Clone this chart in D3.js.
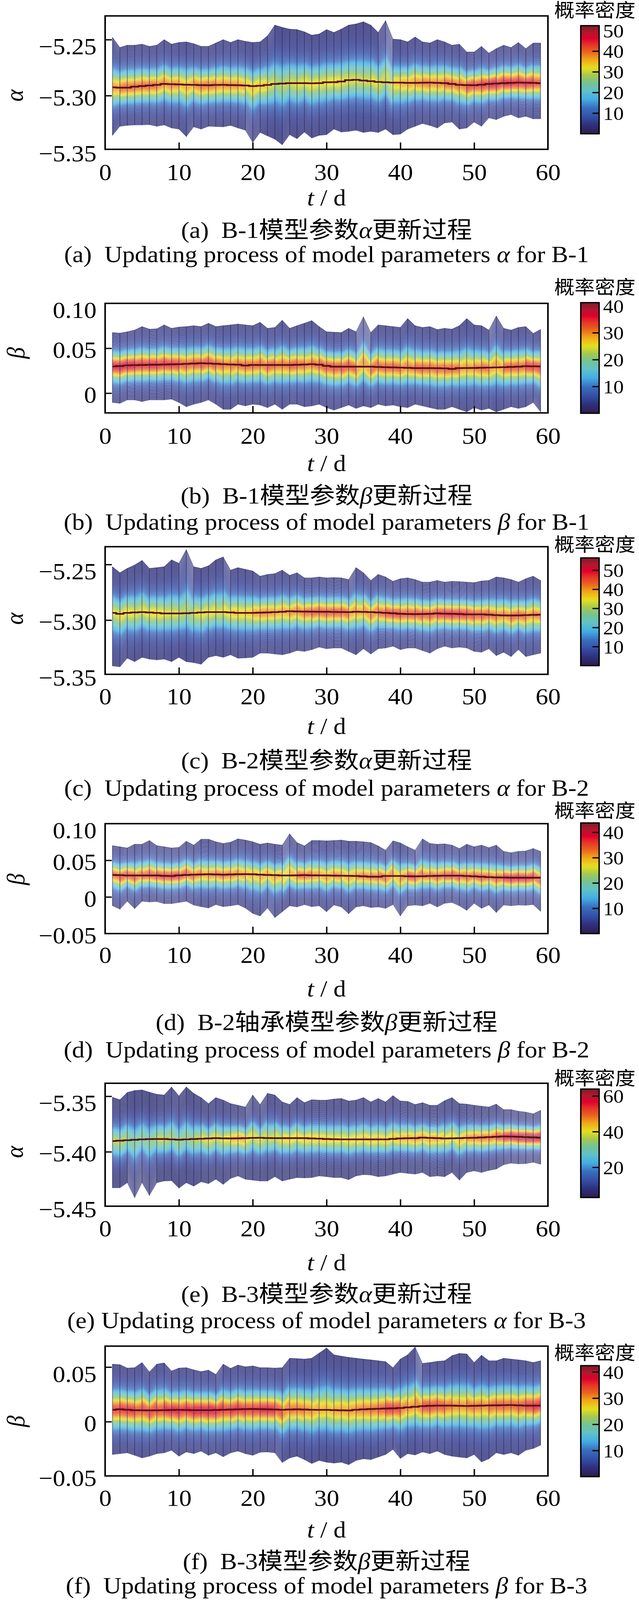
<!DOCTYPE html>
<html><head><meta charset="utf-8">
<script src="https://cdn.jsdelivr.net/npm/d3@7"></script>
<style>
html,body{margin:0;padding:0;background:#fff;overflow:hidden;}
svg{display:block;}
text{font-family:"Liberation Serif","Times New Roman","Noto Sans CJK SC",serif;fill:#000;}
</style></head><body>
<svg id="chart" width="1635" height="4094" viewBox="0 0 1635 4423" preserveAspectRatio="none"></svg>
<script>
// ---------------- data ----------------
const days = d3.range(1, 60);
const xTickValues = [0, 10, 20, 30, 40, 50, 60];

const aUpper = [-5.248,-5.257,-5.255,-5.255,-5.254,-5.256,-5.255,-5.250,-5.254,-5.2525,-5.252,-5.2536,-5.256,-5.256,-5.253,-5.250,-5.2525,-5.250,-5.2515,-5.2525,-5.252,-5.2466,-5.237,-5.239,-5.2406,-5.241,-5.243,-5.246,-5.245,-5.241,-5.2436,-5.2406,-5.237,-5.236,-5.234,-5.237,-5.2436,-5.233,-5.2495,-5.250,-5.252,-5.2476,-5.252,-5.253,-5.250,-5.252,-5.255,-5.254,-5.261,-5.261,-5.256,-5.262,-5.258,-5.255,-5.257,-5.2525,-5.258,-5.253,-5.253];
const aLower = [-5.3356,-5.3275,-5.3267,-5.3263,-5.3263,-5.326,-5.3275,-5.3263,-5.329,-5.330,-5.3367,-5.328,-5.330,-5.3275,-5.3277,-5.328,-5.3267,-5.329,-5.331,-5.342,-5.333,-5.336,-5.339,-5.344,-5.335,-5.3386,-5.3326,-5.338,-5.3356,-5.335,-5.330,-5.3326,-5.332,-5.331,-5.333,-5.332,-5.333,-5.330,-5.335,-5.3345,-5.330,-5.3275,-5.325,-5.3267,-5.329,-5.3245,-5.3237,-5.330,-5.329,-5.3237,-5.3275,-5.320,-5.3215,-5.3186,-5.317,-5.320,-5.3186,-5.3208,-5.3208];
const aMean = [-5.2926,-5.2929,-5.2929,-5.292,-5.2915,-5.291,-5.2904,-5.2896,-5.2898,-5.290,-5.2903,-5.2904,-5.2906,-5.2907,-5.2905,-5.2904,-5.2906,-5.2907,-5.291,-5.2915,-5.2912,-5.2905,-5.2896,-5.2892,-5.2889,-5.2889,-5.2889,-5.289,-5.2889,-5.2881,-5.288,-5.2874,-5.2862,-5.2859,-5.2865,-5.2871,-5.2878,-5.2881,-5.2884,-5.2884,-5.2886,-5.2886,-5.2885,-5.2884,-5.2886,-5.2889,-5.2896,-5.2904,-5.2906,-5.2907,-5.2903,-5.2896,-5.2892,-5.2889,-5.2886,-5.2884,-5.2885,-5.2886,-5.2889];

const bUpper = [0.0675,0.0669,0.0684,0.0703,0.0741,0.0713,0.0717,0.0760,0.0722,0.0736,0.0741,0.0751,0.0741,0.0779,0.0741,0.0751,0.0760,0.0770,0.0760,0.0751,0.0789,0.0722,0.0732,0.0812,0.0722,0.0751,0.0779,0.0808,0.0741,0.0684,0.0679,0.0675,0.0722,0.0684,0.0850,0.0675,0.0760,0.0751,0.0741,0.0732,0.0831,0.0751,0.0732,0.0741,0.0709,0.0722,0.0713,0.0751,0.0831,0.0760,0.0751,0.0703,0.0859,0.0722,0.0703,0.0732,0.0741,0.0665,0.0709];
const bLower = [-0.0105,-0.0114,-0.0076,-0.0076,-0.0095,-0.0076,-0.0076,-0.0076,-0.0067,-0.0105,-0.0152,-0.0124,-0.0105,-0.0076,-0.0124,-0.0181,-0.0181,-0.0124,-0.0143,-0.0124,-0.0133,-0.0162,-0.0124,-0.0181,-0.0124,-0.0124,-0.0152,-0.0143,-0.0124,-0.0162,-0.0190,-0.0162,-0.0133,-0.0171,-0.0143,-0.0162,-0.0124,-0.0143,-0.0133,-0.0152,-0.0162,-0.0124,-0.0143,-0.0162,-0.0181,-0.0181,-0.0152,-0.0181,-0.0209,-0.0162,-0.0190,-0.0171,-0.0209,-0.0181,-0.0152,-0.0171,-0.0152,-0.0105,-0.0209];
const bMean = [0.0298,0.0302,0.0310,0.0312,0.0314,0.0316,0.0317,0.0319,0.0321,0.0323,0.0326,0.0330,0.0333,0.0331,0.0327,0.0323,0.0319,0.0317,0.0308,0.0314,0.0314,0.0314,0.0314,0.0314,0.0314,0.0316,0.0319,0.0323,0.0317,0.0304,0.0295,0.0295,0.0295,0.0295,0.0295,0.0295,0.0292,0.0289,0.0287,0.0285,0.0282,0.0279,0.0279,0.0279,0.0278,0.0276,0.0270,0.0279,0.0280,0.0281,0.0283,0.0285,0.0287,0.0289,0.0292,0.0295,0.0300,0.0299,0.0298];

const cUpper = [-5.2520,-5.2574,-5.2535,-5.2505,-5.2463,-5.2535,-5.2528,-5.2520,-5.2458,-5.2489,-5.2366,-5.2520,-5.2535,-5.2512,-5.2458,-5.2432,-5.2551,-5.2528,-5.2543,-5.2558,-5.2605,-5.2589,-5.2582,-5.2551,-5.2597,-5.2574,-5.2620,-5.2620,-5.2612,-5.2620,-5.2617,-5.2620,-5.2635,-5.2528,-5.2574,-5.2643,-5.2589,-5.2612,-5.2651,-5.2628,-5.2620,-5.2635,-5.2658,-5.2658,-5.2643,-5.2658,-5.2651,-5.2654,-5.2658,-5.2663,-5.2648,-5.2643,-5.2612,-5.2620,-5.2635,-5.2658,-5.2628,-5.2605,-5.2643];
const cLower = [-5.3412,-5.3420,-5.3343,-5.3374,-5.3335,-5.3351,-5.3358,-5.3351,-5.3374,-5.3335,-5.3374,-5.3382,-5.3397,-5.3335,-5.3320,-5.3335,-5.3312,-5.3343,-5.3340,-5.3335,-5.3297,-5.3297,-5.3305,-5.3312,-5.3297,-5.3274,-5.3282,-5.3266,-5.3243,-5.3258,-5.3251,-5.3251,-5.3282,-5.3312,-5.3258,-5.3305,-5.3258,-5.3251,-5.3235,-5.3266,-5.3251,-5.3251,-5.3274,-5.3297,-5.3258,-5.3235,-5.3251,-5.3243,-5.3251,-5.3282,-5.3289,-5.3258,-5.3320,-5.3289,-5.3328,-5.3266,-5.3328,-5.3312,-5.3297];
const cMean = [-5.2935,-5.2943,-5.2935,-5.2931,-5.2928,-5.2931,-5.2935,-5.2940,-5.2940,-5.2940,-5.2938,-5.2935,-5.2931,-5.2928,-5.2928,-5.2928,-5.2931,-5.2935,-5.2935,-5.2935,-5.2933,-5.2931,-5.2928,-5.2925,-5.2920,-5.2922,-5.2923,-5.2924,-5.2925,-5.2925,-5.2926,-5.2927,-5.2928,-5.2925,-5.2926,-5.2928,-5.2931,-5.2935,-5.2938,-5.2943,-5.2945,-5.2946,-5.2945,-5.2943,-5.2940,-5.2942,-5.2943,-5.2945,-5.2948,-5.2948,-5.2948,-5.2951,-5.2955,-5.2957,-5.2958,-5.2957,-5.2955,-5.2953,-5.2951];

const dUpper = [0.0700,0.0684,0.0668,0.0719,0.0719,0.0770,0.0700,0.0684,0.0668,0.0677,0.0760,0.0707,0.0788,0.0788,0.0753,0.0730,0.0747,0.0793,0.0776,0.0753,0.0719,0.0737,0.0719,0.0707,0.0862,0.0742,0.0696,0.0770,0.0770,0.0765,0.0770,0.0776,0.0760,0.0760,0.0753,0.0742,0.0696,0.0638,0.0765,0.0737,0.0684,0.0638,0.0793,0.0730,0.0719,0.0724,0.0707,0.0661,0.0719,0.0684,0.0707,0.0673,0.0707,0.0622,0.0604,0.0622,0.0627,0.0661,0.0622];
const dLower = [-0.0122,-0.0168,-0.0060,-0.0161,-0.0060,-0.0069,-0.0065,-0.0092,-0.0092,-0.0076,-0.0060,-0.0111,-0.0134,-0.0152,-0.0106,-0.0134,-0.0122,-0.0106,-0.0152,-0.0226,-0.0260,-0.0152,-0.0283,-0.0203,-0.0122,-0.0138,-0.0106,-0.0134,-0.0122,-0.0203,-0.0111,-0.0138,-0.0230,-0.0138,-0.0122,-0.0145,-0.0138,-0.0157,-0.0106,-0.0260,-0.0122,-0.0111,-0.0122,-0.0088,-0.0138,-0.0088,-0.0076,-0.0122,-0.0184,-0.0088,-0.0157,-0.0111,-0.0214,-0.0111,-0.0122,-0.0111,-0.0115,-0.0106,-0.0198];
const dMean = [0.0300,0.0297,0.0293,0.0293,0.0293,0.0293,0.0293,0.0288,0.0286,0.0295,0.0300,0.0304,0.0307,0.0309,0.0307,0.0304,0.0307,0.0309,0.0311,0.0309,0.0304,0.0300,0.0297,0.0293,0.0293,0.0295,0.0297,0.0295,0.0294,0.0293,0.0291,0.0290,0.0288,0.0286,0.0281,0.0276,0.0276,0.0286,0.0286,0.0286,0.0283,0.0281,0.0283,0.0286,0.0288,0.0290,0.0290,0.0290,0.0286,0.0281,0.0276,0.0270,0.0267,0.0265,0.0263,0.0263,0.0263,0.0263,0.0263];

const eUpper = [-5.3509,-5.3531,-5.3466,-5.3448,-5.3443,-5.3463,-5.3482,-5.3489,-5.3417,-5.3497,-5.3416,-5.3474,-5.3512,-5.3566,-5.3512,-5.3535,-5.3566,-5.3581,-5.3597,-5.3489,-5.3574,-5.3474,-5.3489,-5.3551,-5.3574,-5.3512,-5.3558,-5.3531,-5.3535,-5.3535,-5.3525,-5.3520,-5.3543,-5.3535,-5.3512,-5.3551,-5.3520,-5.3551,-5.3494,-5.3543,-5.3546,-5.3574,-5.3558,-5.3581,-5.3581,-5.3540,-5.3512,-5.3566,-5.3571,-5.3581,-5.3589,-5.3597,-5.3571,-5.3620,-5.3620,-5.3635,-5.3643,-5.3658,-5.3627];
const eLower = [-5.4325,-5.4325,-5.4279,-5.4414,-5.4279,-5.4394,-5.4279,-5.4264,-5.4261,-5.4328,-5.4279,-5.4310,-5.4271,-5.4287,-5.4248,-5.4294,-5.4241,-5.4218,-5.4248,-5.4256,-5.4264,-5.4264,-5.4225,-5.4264,-5.4248,-5.4233,-5.4236,-5.4233,-5.4218,-5.4225,-5.4233,-5.4233,-5.4252,-5.4218,-5.4206,-5.4210,-5.4225,-5.4218,-5.4202,-5.4187,-5.4195,-5.4202,-5.4187,-5.4225,-5.4218,-5.4225,-5.4187,-5.4256,-5.4187,-5.4172,-5.4187,-5.4169,-5.4156,-5.4118,-5.4103,-5.4110,-5.4107,-5.4095,-5.4113];
const eMean = [-5.3903,-5.3900,-5.3896,-5.3892,-5.3888,-5.3886,-5.3885,-5.3885,-5.3888,-5.3891,-5.3888,-5.3885,-5.3883,-5.3880,-5.3877,-5.3879,-5.3880,-5.3879,-5.3877,-5.3875,-5.3874,-5.3876,-5.3877,-5.3877,-5.3877,-5.3877,-5.3877,-5.3880,-5.3882,-5.3885,-5.3887,-5.3888,-5.3888,-5.3888,-5.3888,-5.3888,-5.3888,-5.3888,-5.3884,-5.3880,-5.3878,-5.3877,-5.3873,-5.3875,-5.3877,-5.3880,-5.3879,-5.3877,-5.3875,-5.3874,-5.3871,-5.3868,-5.3865,-5.3862,-5.3863,-5.3865,-5.3868,-5.3870,-5.3873];

const fUpper = [0.0527,0.0522,0.0491,0.0495,0.0542,0.0456,0.0527,0.0538,0.0464,0.0491,0.0495,0.0475,0.0459,0.0472,0.0433,0.0527,0.0488,0.0519,0.0503,0.0511,0.0495,0.0495,0.0491,0.0495,0.0581,0.0578,0.0573,0.0581,0.0628,0.0675,0.0613,0.0600,0.0589,0.0581,0.0573,0.0566,0.0558,0.0550,0.0495,0.0573,0.0613,0.0683,0.0534,0.0542,0.0553,0.0558,0.0605,0.0625,0.0620,0.0542,0.0609,0.0558,0.0558,0.0581,0.0573,0.0566,0.0558,0.0542,0.0558];
const fLower = [-0.0302,-0.0294,-0.0286,-0.0309,-0.0333,-0.0317,-0.0294,-0.0286,-0.0263,-0.0317,-0.0278,-0.0294,-0.0270,-0.0309,-0.0286,-0.0322,-0.0286,-0.0270,-0.0294,-0.0309,-0.0281,-0.0278,-0.0286,-0.0375,-0.0333,-0.0317,-0.0348,-0.0384,-0.0356,-0.0372,-0.0380,-0.0372,-0.0395,-0.0356,-0.0341,-0.0348,-0.0325,-0.0302,-0.0255,-0.0338,-0.0294,-0.0306,-0.0278,-0.0294,-0.0270,-0.0302,-0.0317,-0.0325,-0.0333,-0.0302,-0.0369,-0.0341,-0.0286,-0.0302,-0.0286,-0.0309,-0.0263,-0.0247,-0.0216];
const fMean = [0.0109,0.0113,0.0109,0.0105,0.0104,0.0103,0.0104,0.0105,0.0107,0.0108,0.0107,0.0105,0.0105,0.0105,0.0107,0.0109,0.0111,0.0113,0.0115,0.0116,0.0115,0.0113,0.0111,0.0109,0.0111,0.0113,0.0111,0.0109,0.0108,0.0108,0.0106,0.0104,0.0103,0.0109,0.0113,0.0116,0.0118,0.0120,0.0122,0.0125,0.0131,0.0136,0.0142,0.0145,0.0147,0.0147,0.0147,0.0145,0.0144,0.0145,0.0147,0.0149,0.0150,0.0151,0.0152,0.0150,0.0147,0.0147,0.0147];

const alphaTicks = [-5.35, -5.30, -5.25];
const bTicks = [0, 0.05, 0.10];
const dTicks = [-0.05, 0, 0.05, 0.10];
const eTicks = [-5.45, -5.40, -5.35];
const fTicks = [-0.05, 0, 0.05];

const captionsCn = [
  ["(a)  B-1模型参数", "α", "更新过程"],
  ["(b)  B-1模型参数", "β", "更新过程"],
  ["(c)  B-2模型参数", "α", "更新过程"],
  ["(d)  B-2轴承模型参数", "β", "更新过程"],
  ["(e)  B-3模型参数", "α", "更新过程"],
  ["(f)  B-3模型参数", "β", "更新过程"]
];
const captionsEn = [
  ["(a)  Updating process of model parameters ", "α", " for B-1"],
  ["(b)  Updating process of model parameters ", "β", " for B-1"],
  ["(c)  Updating process of model parameters ", "α", " for B-2"],
  ["(d)  Updating process of model parameters ", "β", " for B-2"],
  ["(e) Updating process of model parameters ", "α", " for B-3"],
  ["(f)  Updating process of model parameters ", "β", " for B-3"]
];
const colorbarTitle = "概率密度";

// ---------------- layout (positions only, in 1635x4423 figure units) ----------------
const panels = [
  {upper:aUpper, lower:aLower, mean:aMean, ticks:alphaTicks, ylab:"α", yDomain:[-5.348,-5.2288], top:44, bottom:413, xLab:476, td:546, cn:636, en:703, cbTop:71, cbBot:370, cbDomain:[0,52.3], cbTicks:[10,20,30,40,50], titleY:28, ylabX:58, ylabY:264},
  {upper:bUpper, lower:bLower, mean:bMean, ticks:bTicks, ylab:"β", yDomain:[-0.022,0.10], top:839, bottom:1142, xLab:1205, td:1280, cn:1370, en:1443, cbTop:837, cbBot:1143, cbDomain:[0,41.2], cbTicks:[10,20,30,40], titleY:794, ylabX:62, ylabY:976},
  {upper:cUpper, lower:cLower, mean:cMean, ticks:alphaTicks, ylab:"α", yDomain:[-5.3487,-5.234], top:1512, bottom:1865, xLab:1926, td:2008, cn:2103, en:2178, cbTop:1543, cbBot:1841, cbDomain:[0,56.4], cbTicks:[10,20,30,40,50], titleY:1506, ylabX:58, ylabY:1711},
  {upper:dUpper, lower:dLower, mean:dMean, ticks:dTicks, ylab:"β", yDomain:[-0.05,0.10], top:2278, bottom:2582, xLab:2641, td:2734, cn:2826, en:2902, cbTop:2276, cbBot:2582, cbDomain:[0,43.7], cbTicks:[10,20,30,40], titleY:2241, ylabX:62, ylabY:2432},
  {upper:eUpper, lower:eLower, mean:eMean, ticks:eTicks, ylab:"α", yDomain:[-5.449,-5.3383], top:2996, bottom:3336, xLab:3397, td:3491, cn:3578, en:3651, cbTop:3012, cbBot:3312, cbDomain:[3,63.9], cbTicks:[20,40,60], titleY:2981, ylabX:58, ylabY:3186},
  {upper:fUpper, lower:fLower, mean:fMean, ticks:fTicks, ylab:"β", yDomain:[-0.0497,0.0692], top:3723, bottom:4082, xLab:4142, td:4230, cn:4317, en:4384, cbTop:3777, cbBot:4084, cbDomain:[0,42.4], cbTicks:[10,20,30,40], titleY:3741, ylabX:62, ylabY:3931}
];

const PLOT_L = 269, PLOT_R = 1402, CB_L = 1486, CB_R = 1533, CENTER_X = 835.5;
const TICK_FS = 64, CB_FS = 53, CAP_FS = 64;

// colour map (style)
const cmapPos = [0,0.08,0.16,0.24,0.32,0.40,0.47,0.54,0.61,0.69,0.76,0.83,0.88,0.94,1];
const cmapCol = ["#2c1e4a","#2f2f7e","#3450a6","#3a6fc0","#44aee4","#62c2c6","#74c394","#a5c84f","#e6e01d","#f2a31c","#e9611f","#e6302a","#e0002c","#b0182e","#7c1c28"];
const cmap = d3.scaleLinear().domain(cmapPos).range(cmapCol).interpolate(d3.interpolateRgb).clamp(true);
const surfPos = [0,0.06,0.16,0.24,0.32,0.40,0.47,0.54,0.61,0.69,0.76,0.83,0.88,0.94,1];
const surfCol = ["#2e2f74","#30368a","#3450a6","#3a6fc0","#44aee4","#62c2c6","#74c394","#a5c84f","#e6e01d","#f2a31c","#e9611f","#e6302a","#e0002c","#b0182e","#7c1c28"];
const surfColor = d3.scaleLinear().domain(surfPos).range(surfCol).interpolate(d3.interpolateRgb).clamp(true);

const svg = d3.select("#chart");
svg.append("rect").attr("width",1635).attr("height",4423).attr("fill","#fff");
const defs = svg.append("defs");
const tickFmt = d => Math.abs(d) < 1e-12 ? "0" : d3.format(".2f")(d);

const K = 3.7, SHAPE_P = 1.6, N = 80;

panels.forEach((p, pi) => {
  const g = svg.append("g");
  const x = d3.scaleLinear().domain([0, 60]).range([PLOT_L, PLOT_R]);
  const y = d3.scaleLinear().domain(p.yDomain).range([p.bottom, p.top]);
  const cnorm = d3.scaleLinear().domain(p.cbDomain).range([0, 1]).clamp(true);

  // density columns: profile built from each day's mean and extent
  const cols = days.map((d, i) => {
    const lo = p.lower[i], up = p.upper[i], mu = p.mean[i];
    const sU = (up - mu) / K, sL = (mu - lo) / K;
    const peak = 1 / (((sU + sL) / 2) * Math.sqrt(2 * Math.PI));
    return d3.range(N + 1).map(k => {
      const v = lo + (up - lo) * k / N;
      const s = v >= mu ? sU : sL;
      const z = Math.abs(v - mu) / s;
      return {x: x(d), y: y(v), dens: peak * Math.exp(-0.5 * Math.pow(z, SHAPE_P))};
    });
  });
  const quads = [];
  for (let i = 0; i < cols.length - 1; i++) {
    for (let k = 0; k < N; k++) {
      const a = cols[i][k], b = cols[i + 1][k], c = cols[i + 1][k + 1], e = cols[i][k + 1];
      quads.push({pts: [a, b, c, e], dens: (a.dens + b.dens + c.dens + e.dens) / 4});
    }
  }
  const surf = g.append("g");
  surf.selectAll("path.q").data(quads).join("path").attr("class","q")
    .attr("d", q => "M" + q.pts.map(pt => pt.x.toFixed(1) + "," + pt.y.toFixed(1)).join("L") + "Z")
    .attr("fill", q => surfColor(cnorm(q.dens)))
    .attr("stroke", q => surfColor(cnorm(q.dens)))
    .attr("stroke-width", 0.7);

  // mesh lines (at the grid rows and half-way between them)
  const strips = d3.range(cols.length - 1);
  const meshPath = i => {
    let s = "";
    for (let k = 0; k < N; k++) {
      for (const f of [0, 0.5]) {
        const ya = cols[i][k].y + (cols[i][k + 1].y - cols[i][k].y) * f;
        const yb = cols[i + 1][k].y + (cols[i + 1][k + 1].y - cols[i + 1][k].y) * f;
        s += "M" + cols[i][k].x.toFixed(1) + "," + ya.toFixed(1) + "L" + cols[i + 1][k].x.toFixed(1) + "," + yb.toFixed(1);
      }
    }
    return s;
  };
  surf.selectAll("path.h").data(strips).join("path").attr("class","h")
    .attr("d", meshPath)
    .attr("fill", "none").attr("stroke", "#ffffff").attr("stroke-opacity", 0.4).attr("stroke-width", 0.8);
  surf.selectAll("line.v").data(days).join("line").attr("class","v")
    .attr("x1", d => x(d)).attr("x2", d => x(d))
    .attr("y1", (d, i) => y(p.lower[i])).attr("y2", (d, i) => y(p.upper[i]))
    .attr("stroke", "#22225a").attr("stroke-opacity", 0.65).attr("stroke-width", 1.6);

  // mean line
  g.append("path").datum(days)
    .attr("d", d3.line().x(d => x(d)).y((d, i) => y(p.mean[i])).curve(d3.curveStep))
    .attr("fill", "none").attr("stroke", "#5a0e0e").attr("stroke-width", 4.5);

  // box
  g.append("rect").attr("x", PLOT_L).attr("y", p.top).attr("width", PLOT_R - PLOT_L).attr("height", p.bottom - p.top)
    .attr("fill", "none").attr("stroke", "#000").attr("stroke-width", 4);

  // x axis
  const gx = g.append("g").attr("transform", `translate(0,${p.bottom})`)
    .call(d3.axisBottom(x).tickValues(xTickValues).tickFormat(d3.format("d")).tickSizeInner(-19).tickSizeOuter(0));
  gx.select(".domain").remove();
  gx.selectAll(".tick line").attr("stroke", "#000").attr("stroke-width", 3.5)
    .attr("display", d => (d === 0 || d === 60) ? "none" : null);
  gx.selectAll(".tick text").attr("y", p.xLab - p.bottom).attr("dy", "0.35em")
    .attr("font-size", TICK_FS).attr("font-family", "Liberation Serif");
  gx.attr("font-family", null).attr("font-size", null);

  // y axis
  const gy = g.append("g").attr("transform", `translate(${PLOT_L},0)`)
    .call(d3.axisLeft(y).tickValues(p.ticks).tickFormat(tickFmt).tickSizeInner(-17).tickSizeOuter(0));
  gy.select(".domain").remove();
  gy.selectAll(".tick line").attr("stroke", "#000").attr("stroke-width", 3.5)
    .attr("display", d => (Math.abs(y(d) - p.top) < 8 || Math.abs(y(d) - p.bottom) < 8) ? "none" : null);
  const topTick = d3.max(p.ticks);
  gy.selectAll(".tick text").attr("x", -22)
    .attr("dy", d => (d === topTick ? 0.35 * TICK_FS + 18 : 0.35 * TICK_FS + 4) + "px")
    .attr("font-size", TICK_FS).attr("font-family", "Liberation Serif");
  gy.attr("font-family", null).attr("font-size", null);

  // y label
  g.append("text").attr("transform", `translate(${p.ylabX},${p.ylabY}) rotate(-90)`)
    .attr("text-anchor", "middle").attr("font-size", 64).attr("font-style", "italic").text(p.ylab);

  // x label t / d
  const td = g.append("text").attr("x", CENTER_X).attr("y", p.td).attr("dy", "0.35em")
    .attr("text-anchor", "middle").attr("font-size", 64).style("white-space", "pre");
  td.append("tspan").attr("font-style", "italic").text("t");
  td.append("tspan").text(" / d");

  // captions
  const cn = g.append("text").attr("x", CENTER_X).attr("y", p.cn).attr("dy", "0.35em")
    .attr("text-anchor", "middle").attr("font-size", CAP_FS).style("white-space", "pre");
  cn.append("tspan").text(captionsCn[pi][0]);
  cn.append("tspan").attr("font-style", "italic").text(captionsCn[pi][1]);
  cn.append("tspan").text(captionsCn[pi][2]);
  const en = g.append("text").attr("x", CENTER_X).attr("y", p.en).attr("dy", "0.35em")
    .attr("text-anchor", "middle").attr("font-size", CAP_FS).style("white-space", "pre");
  en.append("tspan").text(captionsEn[pi][0]);
  en.append("tspan").attr("font-style", "italic").text(captionsEn[pi][1]);
  en.append("tspan").text(captionsEn[pi][2]);

  // colour bar
  const gid = "cbgrad" + pi;
  const grad = defs.append("linearGradient").attr("id", gid).attr("x1", 0).attr("y1", 1).attr("x2", 0).attr("y2", 0);
  d3.range(0, 1.0001, 0.02).forEach(t => grad.append("stop").attr("offset", t).attr("stop-color", cmap(t)));
  g.append("rect").attr("x", CB_L).attr("y", p.cbTop).attr("width", CB_R - CB_L).attr("height", p.cbBot - p.cbTop)
    .attr("fill", `url(#${gid})`).attr("stroke", "#000").attr("stroke-width", 3.5);
  const cbScale = d3.scaleLinear().domain(p.cbDomain).range([p.cbBot, p.cbTop]);
  const gc = g.append("g").attr("transform", `translate(${CB_R},0)`)
    .call(d3.axisRight(cbScale).tickValues(p.cbTicks).tickFormat(d3.format("d")).tickSizeInner(-17).tickSizeOuter(0).tickPadding(10));
  gc.select(".domain").remove();
  gc.selectAll(".tick line").attr("stroke", "#000").attr("stroke-width", 3.5)
    .attr("display", d => (Math.abs(cbScale(d) - p.cbTop) < 15 || Math.abs(cbScale(d) - p.cbBot) < 15) ? "none" : null);
  gc.selectAll(".tick text").attr("font-size", CB_FS).attr("font-family", "Liberation Serif").attr("dy", "0.35em");
  gc.attr("font-family", null).attr("font-size", null);

  g.append("text").attr("x", 1522).attr("y", p.titleY).attr("dy", "0.36em").attr("text-anchor", "middle")
    .attr("font-size", 52).attr("font-family", "Noto Sans CJK SC").text(colorbarTitle);
});
</script>
</body></html>
